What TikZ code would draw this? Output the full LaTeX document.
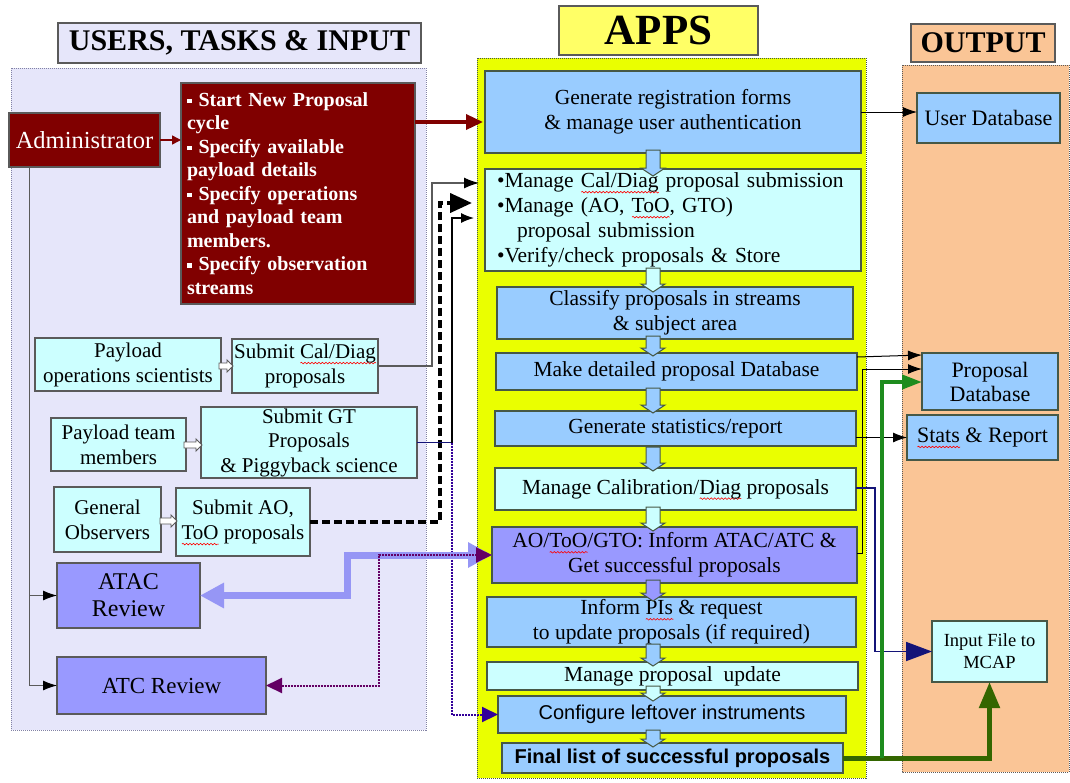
\documentclass[tikz,border=0pt]{standalone}
\usepackage{fontspec}
\setmainfont{Liberation Serif}
\setsansfont{Liberation Sans}
\usetikzlibrary{arrows.meta,calc,decorations.pathmorphing}
\definecolor{lav}{RGB}{230,230,250}
\definecolor{dred}{RGB}{128,0,0}
\definecolor{cyanbox}{RGB}{204,255,255}
\definecolor{bluebox}{RGB}{153,204,255}
\definecolor{purpbox}{RGB}{153,153,255}
\definecolor{ylw}{RGB}{234,255,0}
\definecolor{ylwtitle}{RGB}{255,255,102}
\definecolor{peach}{RGB}{250,197,150}
\definecolor{bord}{RGB}{70,88,70}
\definecolor{gbord}{RGB}{90,90,90}
\definecolor{pbord}{RGB}{130,130,165}
\definecolor{navyc}{RGB}{20,20,120}
\definecolor{dpurp}{RGB}{100,0,100}
\definecolor{indig}{RGB}{51,0,153}
\definecolor{lgreen}{RGB}{30,140,30}
\definecolor{dgreen}{RGB}{51,102,0}
\definecolor{lpurp}{RGB}{150,150,245}
\newsavebox\wvbox
\newcommand\rw[1]{\sbox\wvbox{#1}\leavevmode\rlap{\raisebox{-4.5pt}[0pt][0pt]{\tikz[baseline=0pt]\draw[red,line width=0.6pt,solid,decorate,decoration={snake,amplitude=0.8pt,segment length=3.5pt}] (0pt,0pt) -- (\the\wd\wvbox,0pt);}}\usebox\wvbox}
\newcommand\sqb{\raisebox{0.35ex}{\rule{4.5pt}{4.5pt}}\hspace{7pt}}
\newcommand\bx[7]{\node[#6,anchor=north west,minimum width=#4pt-#2pt,minimum height=#5pt-#3pt] (#1) at (#2,#3) {#7};}
\newcommand\dnarr[3]{\draw[bord,line width=1pt,fill=#3] (646,#1) -- (660,#1) -- (660,#2-8) -- (665,#2-8) -- (653,#2) -- (641,#2-8) -- (646,#2-8) -- cycle;}
\newcommand\rtarr[3]{\draw[gbord,line width=0.9pt,fill=white] (#1,#3-3) -- (#2-6,#3-3) -- (#2-6,#3-6) -- (#2,#3) -- (#2-6,#3+6) -- (#2-6,#3+3) -- (#1,#3+3) -- cycle;}
\begin{document}
\begin{tikzpicture}[x=1pt,y=-1pt,
  boxbase/.style={draw,line width=1.3pt,outer sep=0pt,inner xsep=2pt,inner ysep=0pt,align=center,text=black,font=\fontsize{21.5}{25}\selectfont},
  bluebx/.style={boxbase,draw=bord,fill=bluebox},
  cyanbx/.style={boxbase,draw=bord,fill=cyanbox},
  purpbx/.style={boxbase,draw=bord,fill=purpbox},
  cybx/.style={boxbase,draw=gbord,fill=cyanbox,font=\fontsize{21}{25}\selectfont,inner xsep=1pt},
  pubx/.style={boxbase,draw=gbord,fill=purpbox},
  redbx/.style={boxbase,draw=gbord,fill=dred,text=white},
  titlebx/.style={boxbase,draw=gbord,font=\bfseries\fontsize{30}{30}\selectfont},
  thinln/.style={line width=1pt},
]
\useasboundingbox (0,0) rectangle (1070,782);
\fill[white] (0,0) rectangle (1070,782);
% panels
\draw[pbord,densely dotted,line width=1pt,fill=lav] (11,68) rectangle (426,730);
\draw[bord,densely dotted,line width=1pt,fill=ylw] (477,58) rectangle (866,778);
\draw[gbord,densely dotted,line width=1pt,fill=peach] (902,65) rectangle (1069,772);
% titles
\bx{tusers}{58}{23}{421}{63}{titlebx,fill=lav}{USERS, TASKS \& INPUT}
\bx{tapps}{559}{6}{758}{55}{titlebx,fill=ylwtitle,font=\bfseries\fontsize{43}{43}\selectfont}{APPS}
\bx{tout}{911}{24}{1055}{62}{titlebx,fill=peach}{OUTPUT}
% left column
\bx{adm}{9}{113}{160}{167}{redbx,font=\fontsize{24.5}{28}\selectfont}{Administrator}
\bx{redl}{181}{83}{415}{304}{redbx,align=left,text width=222pt,inner xsep=6pt,font=\bfseries\fontsize{20}{23.5}\selectfont}{\sqb Start New Proposal\\cycle\\\sqb Specify available\\payload details\\\sqb Specify operations\\and payload team\\members.\\\sqb Specify observation\\streams}
\bx{pos}{35}{338}{221}{391}{cybx}{Payload\\operations scientists}
\bx{scd}{232}{339}{378}{393}{cybx}{Submit \rw{Cal/Diag}\\proposals}
\bx{ptm}{51}{418}{186}{471}{cybx}{Payload team\\members}
\bx{gt}{201}{407}{417}{478}{cybx,font=\fontsize{21}{24.5}\selectfont}{Submit GT\\Proposals\\\& Piggyback science}
\bx{go}{54}{487}{161}{552}{cybx}{General\\Observers}
\bx{ao}{176}{488}{310}{556}{cybx}{Submit AO,\\\rw{ToO} proposals}
\bx{atac}{57}{563}{200}{628}{pubx,font=\fontsize{24}{27}\selectfont}{ATAC\\Review}
\bx{atc}{57}{657}{266}{714}{pubx,font=\fontsize{23}{26}\selectfont}{ATC Review}
% middle column
\bx{b1}{485}{71}{861}{153}{bluebx}{Generate registration forms\\\& manage user authentication}
\bx{b2}{485}{169}{861}{271}{cyanbx,align=left,text width=352pt,inner xsep=12pt}{\textbullet Manage \rw{Cal/Diag} proposal submission\\\textbullet Manage (AO, \rw{ToO}, GTO)\\\hspace*{20pt}proposal submission\\\textbullet Verify/check proposals \& Store}
\bx{b3}{497}{287}{853}{339}{bluebx}{Classify proposals in streams\\\& subject area}
\bx{b4}{496}{353}{857}{390}{bluebx}{Make detailed proposal Database}
\bx{b5}{495}{411}{856}{446}{bluebx}{Generate statistics/report}
\bx{b6}{495}{468}{856}{510}{cyanbx}{Manage Calibration/\rw{Diag} proposals}
\bx{b7}{492}{527}{857}{583}{purpbx}{AO/\rw{ToO}/GTO: Inform ATAC/ATC \&\\Get successful proposals}
\bx{b8}{487}{597}{856}{647}{bluebx}{Inform \rw{PIs} \& request\\to update proposals (if required)}
\bx{b9}{487}{662}{858}{690}{cyanbx}{Manage proposal\ \ update}
\bx{b10}{498}{696}{846}{733}{bluebx,font=\sffamily\fontsize{20}{24}\selectfont}{Configure leftover instruments}
\bx{b11}{502}{743}{843}{773}{bluebx,font=\sffamily\bfseries\fontsize{20}{24}\selectfont}{Final list of successful proposals}
% right column
\bx{ud}{917}{93}{1060}{143}{bluebx,font=\fontsize{22}{25}\selectfont}{User Database}
\bx{pdb}{922}{353}{1058}{410}{bluebx,font=\fontsize{22}{24}\selectfont}{Proposal\\Database}
\bx{st}{907}{415}{1058}{460}{bluebx,font=\fontsize{22}{25}\selectfont}{\rw{Stats} \& Report}
\bx{inp}{932}{621}{1047}{682}{cyanbx,font=\fontsize{18.5}{22}\selectfont}{Input File to\\MCAP}
% block arrows between middle boxes
\dnarr{150}{176}{bluebox}
\dnarr{268}{292}{cyanbox}
\dnarr{336}{356}{bluebox}
\dnarr{388}{413}{bluebox}
\dnarr{447}{471}{bluebox}
\dnarr{507}{531}{cyanbox}
\dnarr{580}{601}{purpbox}
\dnarr{644}{666}{bluebox}
\dnarr{686}{701}{cyanbox}
\dnarr{730}{747}{bluebox}
% hollow arrows on the left
\rtarr{219}{233}{366}
\rtarr{184}{202}{445}
\rtarr{160}{177}{521}
% connectors: left
\draw[dred,line width=1.5pt,-{Triangle[length=9pt,width=9pt]}] (adm.east) -- (adm.east -| redl.west);
\draw[dred,line width=3.5pt,-{Triangle[length=17pt,width=15pt]}] ($(redl.north east)+(0,39)$) -- ($(b1.north west)+(-2,51)$);
\coordinate (av) at ($(adm.south west)+(20,0)$);
\draw[gbord,thinln,-{Latex[length=14pt,width=10pt,black]}] (av) |- (atc.west);
\draw[gbord,thinln,-{Latex[length=14pt,width=10pt,black]}] (av |- atac.west) -- (atac.west);
\draw[gbord,line width=1.2pt,-{Latex[length=15pt,width=11pt,black]}] (scd.east) -- ++(54,0) |- ($(b2.north west)+(-6,14)$);
\draw[black,line width=4pt,dash pattern=on 8pt off 4pt,-{Triangle[length=22pt,width=19pt]}] (ao.east) -- ++(130,0) |- ($(b2.north west)+(-13,34)$);
\draw[navyc,line width=1.8pt] (gt.east) -- ++(35,0) coordinate (gtc);
\draw[black,line width=1.3pt,-{Latex[length=13pt,width=10pt]}] (gtc) |- ($(b2.north west)+(-11,49)$);
\draw[indig,line width=2pt,densely dotted,-{Triangle[length=16pt,width=15pt]}] (gtc) |- (b10.west);
\draw[lpurp,line width=7pt,{Triangle[length=24pt,width=24pt]}-{Triangle[length=24pt,width=24pt]}] (atac.east) -- ++(147,0) |- (b7.west);
\draw[dpurp,line width=2pt,densely dotted,{Triangle[length=16pt,width=15pt]}-{Triangle[length=16pt,width=15pt]}] (atc.east) -- ++(113,0) |- (b7.west);
% connectors: right
\draw[black,thinln,-{Latex[length=14pt,width=10pt]}] (b1.east) -- (b1.east -| ud.west);
\draw[black,thinln,-{Latex[length=14pt,width=10pt]}] ($(b4.north east)+(0,4)$) -- ($(pdb.north west)+(0,2)$);
\draw[black,thinln,-{Latex[length=14pt,width=10pt]}] ($(b7.north east)+(0,26)$) -- ++(5,0) |- ($(pdb.north west)+(0,16)$);
\draw[black,thinln,-{Latex[length=14pt,width=10pt]}] (st.west -| b5.east) -- (st.west);
\draw[navyc,line width=1.8pt,-{Triangle[length=26pt,width=19pt]}] ($(b6.east)+(0,-1)$) -- ++(19,0) |- (inp.west);
\draw[dgreen,line width=5pt,-{Triangle[length=26pt,width=20pt]}] (b11.east) -| (inp.south);
\path (b11.east) -- ++(39,0) coordinate (gj);
\draw[lgreen,line width=4pt,-{Triangle[length=20pt,width=14pt]}] (gj) |- ($(pdb.north west)+(0,29)$);
\end{tikzpicture}
\end{document}
